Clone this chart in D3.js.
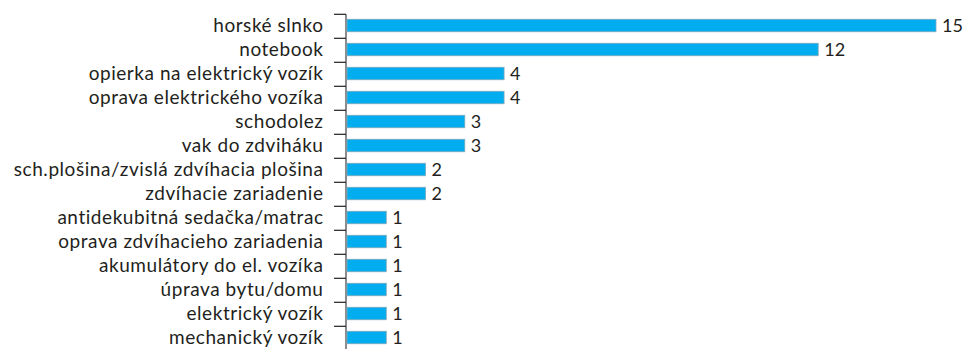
<!DOCTYPE html>
<html>
<head>
<meta charset="utf-8">
<script src="https://cdn.jsdelivr.net/npm/d3@7"></script>
<style>
  html, body { margin: 0; padding: 0; background: #fff; }
  svg { display: block; }
</style>
</head>
<body>
<svg id="chart" width="963" height="349"></svg>
<script>
// Requested aids, by category
const categories = [
  "horské slnko",
  "notebook",
  "opierka na elektrický vozík",
  "oprava elektrického vozíka",
  "schodolez",
  "vak do zdviháku",
  "sch.plošina/zvislá zdvíhacia plošina",
  "zdvíhacie zariadenie",
  "antidekubitná sedačka/matrac",
  "oprava zdvíhacieho zariadenia",
  "akumulátory do el. vozíka",
  "úprava bytu/domu",
  "elektrický vozík",
  "mechanický vozík"
];
const counts = [15, 12, 4, 4, 3, 3, 2, 2, 1, 1, 1, 1, 1, 1];

const svg = d3.select("#chart");
const x0 = 347, plotTop = 14.3, step = 24;
const font = "Lato, 'Open Sans', sans-serif";

const x = d3.scaleLinear().domain([0, 15]).range([x0, x0 + 589]);
const y = d3.scaleBand()
  .domain(categories)
  .range([plotTop - 0.8, plotTop - 0.8 + step * categories.length])
  .paddingInner(0.48)
  .paddingOuter(0.24);

// category axis: line plus ticks at band boundaries
const g = svg.append("g");
g.append("line")
  .attr("x1", x0 - 1).attr("x2", x0 - 1)
  .attr("y1", plotTop).attr("y2", 349)
  .attr("stroke", "#6d6e71").attr("stroke-width", 1.6);
g.selectAll("line.tick")
  .data(categories)
  .join("line")
  .attr("class", "tick")
  .attr("x1", x0 - 13).attr("x2", x0 - 1)
  .attr("y1", (d, i) => plotTop + i * step)
  .attr("y2", (d, i) => plotTop + i * step)
  .attr("stroke", "#231f20").attr("stroke-width", 1.2);

// bars
svg.selectAll("rect.bar")
  .data(counts)
  .join("rect")
  .attr("class", "bar")
  .attr("x", x(0))
  .attr("y", (d, i) => y(categories[i]))
  .attr("width", d => x(d) - x(0))
  .attr("height", y.bandwidth())
  .attr("fill", "#00aeef")
  .attr("stroke", "#7fa7bd")
  .attr("stroke-width", 0.8);

// category labels
svg.selectAll("text.cat")
  .data(categories)
  .join("text")
  .attr("class", "cat")
  .attr("x", 323.5)
  .attr("y", d => y(d) + y.bandwidth() / 2)
  .attr("dy", "0.33em")
  .attr("text-anchor", "end")
  .attr("font-family", font)
  .attr("font-size", 19)
  .attr("letter-spacing", 0.55)
  .attr("fill", "#231f20")
  .text(d => d);

// value labels
svg.selectAll("text.val")
  .data(counts)
  .join("text")
  .attr("class", "val")
  .attr("x", d => x(d) + 6)
  .attr("y", (d, i) => y(categories[i]) + y.bandwidth() / 2)
  .attr("dy", "0.35em")
  .attr("font-family", font)
  .attr("font-size", 18)
  .attr("fill", "#231f20")
  .text(d => d);
</script>
</body>
</html>
